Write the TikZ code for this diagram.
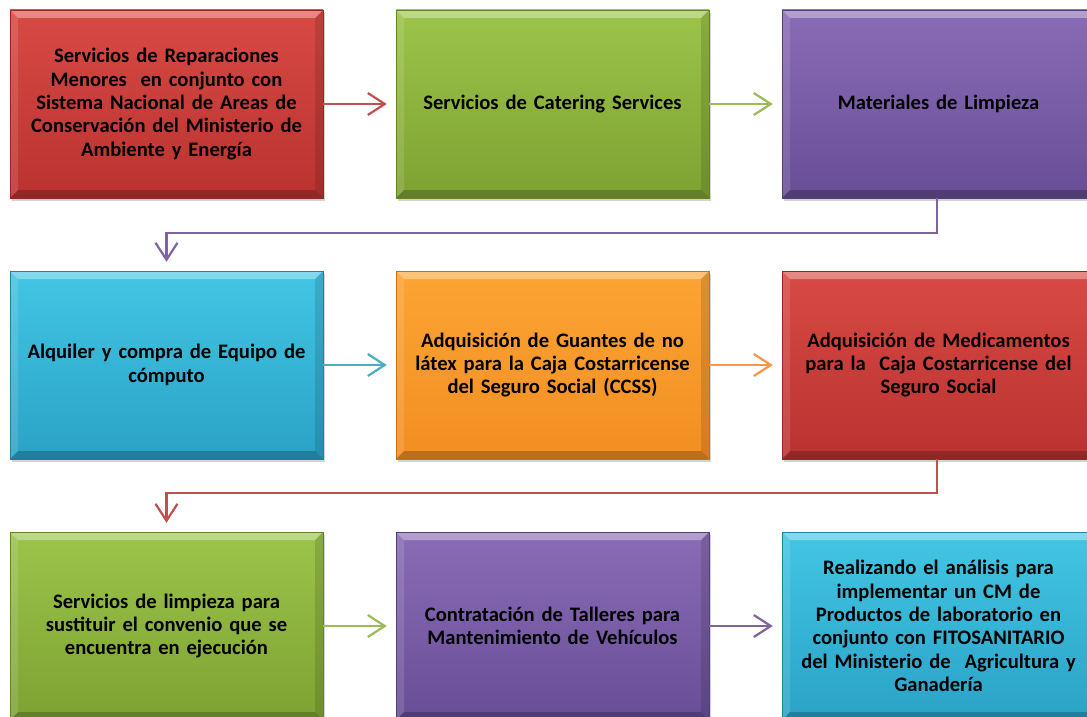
\documentclass[tikz,border=0pt]{standalone}
\usepackage{fontspec}
\setmainfont{Carlito}
\usetikzlibrary{arrows.meta,shadows,calc}
\definecolor{rdT}{RGB}{216,74,68}\definecolor{rdB}{RGB}{186,50,48}
\definecolor{grT}{RGB}{156,196,74}\definecolor{grB}{RGB}{126,162,50}
\definecolor{puT}{RGB}{138,108,182}\definecolor{puB}{RGB}{104,78,150}
\definecolor{blT}{RGB}{66,198,228}\definecolor{blB}{RGB}{42,162,198}
\definecolor{orT}{RGB}{252,164,52}\definecolor{orB}{RGB}{242,142,34}
\definecolor{rdL}{RGB}{192,80,77}
\definecolor{grL}{RGB}{155,187,89}
\definecolor{puL}{RGB}{128,100,162}
\definecolor{blL}{RGB}{75,172,198}
\definecolor{orL}{RGB}{247,150,70}
\tikzset{
  box/.style 2 args={rectangle, minimum width=313pt, minimum height=188pt,
    inner sep=0pt, text width=300pt, align=center, font=\bfseries\fontsize{20.6}{23.3}\selectfont,
    top color=#1, bottom color=#2, draw=#2!80!black, line width=0.4pt,
    drop shadow={shadow xshift=1.5pt, shadow yshift=-3pt, opacity=0.35},
    path picture={
      \coordinate (nw) at (path picture bounding box.north west);
      \coordinate (ne) at (path picture bounding box.north east);
      \coordinate (sw) at (path picture bounding box.south west);
      \coordinate (se) at (path picture bounding box.south east);
      \fill[white,opacity=0.35] (nw) -- (ne) -- ($(ne)+(-8pt,-8pt)$) -- ($(nw)+(8pt,-8pt)$) -- cycle;
      \fill[white,opacity=0.12] (nw) -- ($(nw)+(8pt,-8pt)$) -- ($(sw)+(8pt,8pt)$) -- (sw) -- cycle;
      \fill[black,opacity=0.12] (ne) -- ($(ne)+(-8pt,-8pt)$) -- ($(se)+(-8pt,8pt)$) -- (se) -- cycle;
      \fill[black,opacity=0.22] (sw) -- (se) -- ($(se)+(-8pt,8pt)$) -- ($(sw)+(8pt,8pt)$) -- cycle;
    }},
  conn/.style={line width=2.2pt, -{Straight Barb[length=17pt,width=22pt,line width=2.2pt]}}
}
\begin{document}
\begin{tikzpicture}[x=1pt,y=-1pt]
\useasboundingbox (0,0) rectangle (1087,717);
\begin{scope}
\clip (0,0) rectangle (1087,717);
\node[box={rdT}{rdB}] (b1) at (166.5,104) {Servicios de Reparaciones\\Menores\ \ en conjunto con\\Sistema Nacional de Areas de\\Conservación del Ministerio de\\Ambiente y Energía};
\node[box={grT}{grB}] (b2) at (552.5,104) {Servicios de Catering Services};
\node[box={puT}{puB}] (b3) at (938.5,104) {Materiales de Limpieza};
\node[box={blT}{blB}] (b4) at (166.5,365) {Alquiler y compra de Equipo de\\cómputo};
\node[box={orT}{orB}] (b5) at (552.5,365) {Adquisición de Guantes de no\\látex para la Caja Costarricense\\del Seguro Social (CCSS)};
\node[box={rdT}{rdB}] (b6) at (938.5,365) {Adquisición de Medicamentos\\para la\ \ Caja Costarricense del\\Seguro Social};
\node[box={grT}{grB}] (b7) at (166.5,626) {Servicios de limpieza para\\sustituir el convenio que se\\encuentra en ejecución};
\node[box={puT}{puB}] (b8) at (552.5,626) {Contratación de Talleres para\\Mantenimiento de Vehículos};
\node[box={blT}{blB}] (b9) at (938.5,626) {Realizando el análisis para\\implementar un CM de\\Productos de laboratorio en\\conjunto con FITOSANITARIO\\del Ministerio de\ \ Agricultura y\\Ganadería};
\end{scope}
\draw[conn,rdL] (b1.east) -- ([xshift=-9pt]b2.west);
\draw[conn,grL] (b2.east) -- ([xshift=-9pt]b3.west);
\draw[conn,blL] (b4.east) -- ([xshift=-9pt]b5.west);
\draw[conn,orL] (b5.east) -- ([xshift=-9pt]b6.west);
\draw[conn,grL] (b7.east) -- ([xshift=-9pt]b8.west);
\draw[conn,puL] (b8.east) -- ([xshift=-9pt]b9.west);
\coordinate (k1) at (937,233);
\coordinate (k2) at (937,493);
\draw[conn,puL] ([xshift=-1.5pt]b3.south) -- (k1) -| ([yshift=9pt]b4.north);
\draw[conn,rdL] ([xshift=-1.5pt]b6.south) -- (k2) -| ([yshift=9pt]b7.north);
\end{tikzpicture}
\end{document}
